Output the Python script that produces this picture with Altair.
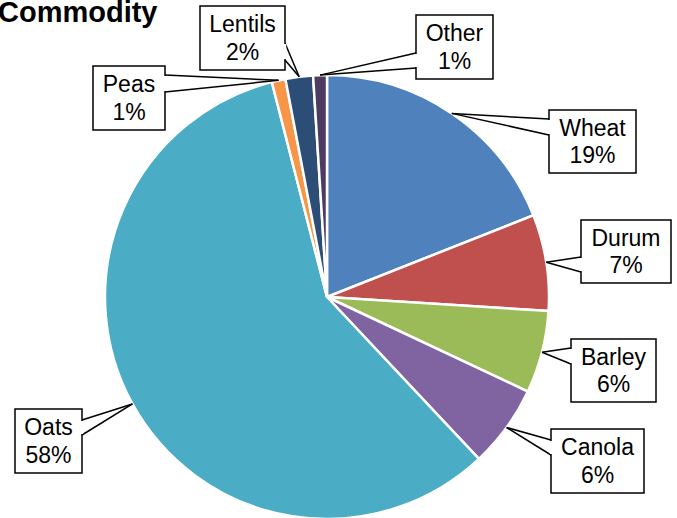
import altair as alt
import pandas as pd
import numpy as np

# Commodity shares (percent), clockwise from 12 o'clock
commodities = ["Wheat", "Durum", "Barley", "Canola", "Oats", "Peas", "Lentils", "Other"]
shares = [19, 7, 6, 6, 58, 1, 2, 1]
colors = ["#4F81BD", "#C0504D", "#9BBB59", "#8064A2", "#4BACC6",
          "#F79646", "#2C4D75", "#4D3B62"]

# Pie geometry (pixels)
CX, CY, R = 327, 297, 222

# Callout boxes: left, top, right, bottom, side the pointer leaves from,
# and the vertical span of the pointer's base on that side
box_left = [549, 581, 571, 551, 15, 93, 200, 416]
box_top = [110, 220, 339, 429, 409, 66, 6, 15]
box_right = [636, 671, 656, 644, 82, 165, 285, 493]
box_bottom = [173, 283, 402, 493, 473, 130, 70, 79]
pointer_side = ["left", "left", "left", "left", "right", "right", "right", "left"]
base_top = [119, 257, 348, 440, 420, 75, 43, 53]
base_bottom = [135, 272, 364, 455, 435, 92, 60, 68]

df = pd.DataFrame({
    "commodity": commodities,
    "share": shares,
    "color": colors,
    "idx": range(len(commodities)),
})
df["label2"] = df["share"].astype(str) + "%"

# Pointer tips sit on the rim at each slice's mid angle
total = df["share"].sum()
mid = (df["share"].cumsum() - df["share"] / 2) / total * 2 * np.pi
df["tx"] = CX + R * np.sin(mid)
df["ty"] = CY - R * np.cos(mid)

df["x0"] = box_left
df["y0"] = box_top
df["x1"] = box_right
df["y1"] = box_bottom
df["bx"] = [l if s == "left" else r for l, r, s in zip(box_left, box_right, pointer_side)]
df["by0"] = base_top
df["by1"] = base_bottom
df["cx"] = (df["x0"] + df["x1"]) / 2
df["cy"] = (df["y0"] + df["y1"]) / 2
df["line1_y"] = df["cy"] - 6
df["line2_y"] = df["cy"] + 21.5
df["mask_y0"] = df["by0"] + 1
df["mask_y1"] = df["by1"] - 1

FONT = "Liberation Sans"

base = alt.Chart(df)

pie = base.mark_arc(radius=R, stroke="white", strokeWidth=2.5).encode(
    theta=alt.Theta("share:Q", stack=True),
    color=alt.Color("color:N", scale=None),
    order=alt.Order("idx:Q"),
    x=alt.value(CX),
    y=alt.value(CY),
)

boxes = base.mark_rect(fill="white", stroke="black", strokeWidth=1.5).encode(
    x=alt.X("x0:Q", scale=None),
    x2="x1:Q",
    y=alt.Y("y0:Q", scale=None),
    y2="y1:Q",
)

# White segment opening the box edge where the pointer attaches
masks = base.mark_rule(color="white", strokeWidth=2.5).encode(
    x=alt.X("bx:Q", scale=None),
    y=alt.Y("mask_y0:Q", scale=None),
    y2="mask_y1:Q",
)

pointer_a = base.mark_rule(color="black", strokeWidth=1.5).encode(
    x=alt.X("bx:Q", scale=None),
    y=alt.Y("by0:Q", scale=None),
    x2="tx:Q",
    y2="ty:Q",
)
pointer_b = base.mark_rule(color="black", strokeWidth=1.5).encode(
    x=alt.X("bx:Q", scale=None),
    y=alt.Y("by1:Q", scale=None),
    x2="tx:Q",
    y2="ty:Q",
)

name_text = base.mark_text(font=FONT, fontSize=23, color="black",
                           align="center", baseline="alphabetic").encode(
    x=alt.X("cx:Q", scale=None),
    y=alt.Y("line1_y:Q", scale=None),
    text="commodity:N",
)
pct_text = base.mark_text(font=FONT, fontSize=23, color="black",
                          align="center", baseline="alphabetic").encode(
    x=alt.X("cx:Q", scale=None),
    y=alt.Y("line2_y:Q", scale=None),
    text="label2:N",
)

title = alt.Chart(pd.DataFrame({"t": ["Commodity"]})).mark_text(
    font=FONT, fontSize=29, fontWeight="bold", color="black",
    align="left", baseline="alphabetic",
).encode(
    x=alt.value(-2),
    y=alt.value(22),
    text="t:N",
)

chart = alt.layer(
    pie, pointer_a, pointer_b, boxes, masks, name_text, pct_text, title
).properties(
    width=677,
    height=518,
    padding=0,
    autosize=alt.AutoSizeParams(type="none"),
    background="white",
).configure_view(stroke=None)

chart.save("out.html", embed_options={"renderer": "svg", "actions": False})
